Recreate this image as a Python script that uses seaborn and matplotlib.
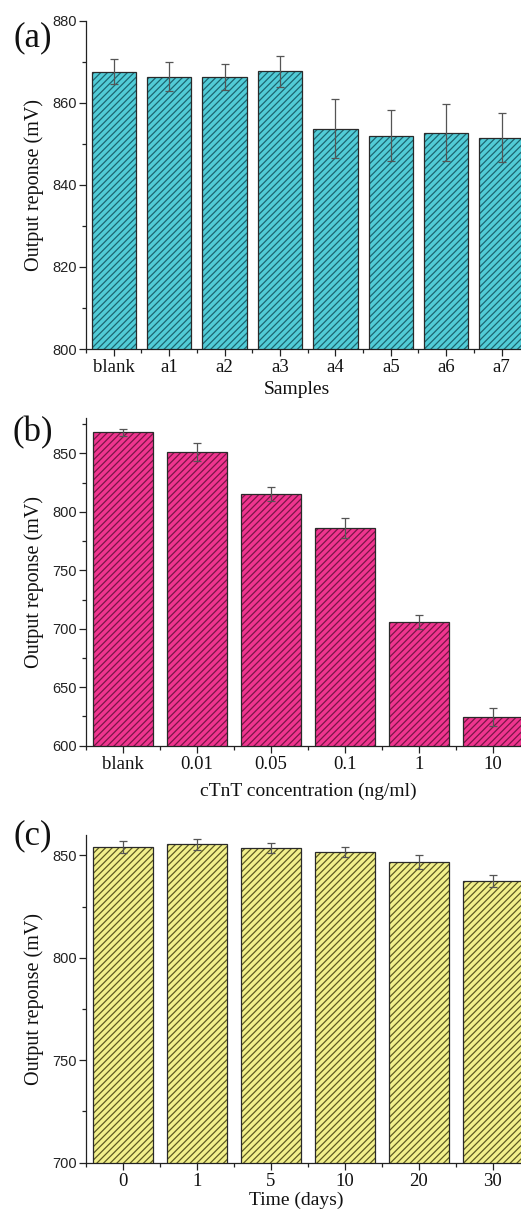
import numpy as np
import matplotlib
matplotlib.use("Agg")
import matplotlib.pyplot as plt
import seaborn as sns
from matplotlib.ticker import AutoMinorLocator, FixedLocator, MultipleLocator
from matplotlib.colors import to_rgba

# ---------------- data ----------------
samples_a = ["blank", "a1", "a2", "a3", "a4", "a5", "a6", "a7"]
values_a = [867.6, 866.4, 866.3, 867.7, 853.7, 852.0, 852.7, 851.5]
errors_a = [3.0, 3.6, 3.1, 3.8, 7.1, 6.2, 7.0, 5.9]

conc_b = ["blank", "0.01", "0.05", "0.1", "1", "10"]
values_b = [868.0, 851.4, 815.4, 786.3, 705.6, 624.2]
errors_b = [3.0, 7.8, 6.2, 8.4, 6.0, 7.7]

days_c = ["0", "1", "5", "10", "20", "30"]
values_c = [854.2, 855.5, 853.6, 851.6, 846.6, 837.6]
errors_c = [2.8, 2.6, 2.4, 2.3, 3.4, 3.1]

# ---------------- style ----------------
sns.set_theme(style="ticks")
plt.rcParams["font.family"] = ["Liberation Serif", "DejaVu Serif"]
plt.rcParams["hatch.linewidth"] = 0.9
plt.rcParams["axes.linewidth"] = 0.9

W, H = 521, 1209
fig = plt.figure(figsize=(W / 100, H / 100), dpi=100)


def px_axes(left, top, right, bottom):
    return fig.add_axes([left / W, 1 - bottom / H, (right - left) / W, (bottom - top) / H])


panels = [
    dict(cats=samples_a, vals=values_a, errs=errors_a, box=(86, 20.7, 521, 349),
         ylim=(800, 880), major=20, xmax=7.35, fill="#52CCD7", hatch="#1C6670",
         xlabel="Samples", xlab_pos=(0.484, -0.098), tag="(a)", tag_y=38),
    dict(cats=conc_b, vals=values_b, errs=errors_b, box=(86, 418.3, 521, 745.7),
         ylim=(600, 880), major=50, xmax=5.38, fill="#F0358F", hatch="#7A1547",
         xlabel="cTnT concentration (ng/ml)", xlab_pos=(0.51, -0.113), tag="(b)", tag_y=433),
    dict(cats=days_c, vals=values_c, errs=errors_c, box=(86, 835, 521, 1162.6),
         ylim=(700, 860), major=50, xmax=5.38, fill="#F2F08C", hatch="#5E5A22",
         xlabel="Time (days)", xlab_pos=(0.484, -0.088), tag="(c)", tag_y=836),
]

for p in panels:
    ax = px_axes(*p["box"])
    sns.barplot(x=p["cats"], y=p["vals"], order=p["cats"], ax=ax, color=p["fill"],
                saturation=1, width=0.8, errorbar=None, edgecolor="#2a2a2a",
                linewidth=0.9, hatch="/////", zorder=2)
    for bar in ax.patches:
        if hasattr(bar, "set_hatchcolor"):
            bar.set_hatchcolor(p["hatch"])
        else:
            bar._hatch_color = to_rgba(p["hatch"])
        bar.set_facecolor(p["fill"])
    ax.errorbar(np.arange(len(p["cats"])), p["vals"], yerr=p["errs"], fmt="none",
                ecolor="#555555", elinewidth=0.9, capsize=2.6, capthick=0.9, zorder=3)

    ax.set_ylim(*p["ylim"])
    ax.set_xlim(-0.5, p["xmax"])
    ax.yaxis.set_major_locator(MultipleLocator(p["major"]))
    ax.yaxis.set_minor_locator(AutoMinorLocator(2))
    ax.xaxis.set_minor_locator(FixedLocator(np.arange(-0.5, len(p["cats"]) + 0.5, 1.0)))

    for s in ["top", "right"]:
        ax.spines[s].set_visible(False)
    for s in ["left", "bottom"]:
        ax.spines[s].set_color("#222222")

    ax.tick_params(axis="both", which="major", direction="out", length=5, width=0.9,
                   color="#222222")
    ax.tick_params(axis="both", which="minor", direction="out", length=3, width=0.9,
                   color="#222222")
    ax.tick_params(axis="y", which="major", pad=1.5)
    ax.tick_params(axis="x", which="major", pad=2.5)
    for lab in ax.get_yticklabels():
        lab.set_fontfamily(["Liberation Sans", "DejaVu Sans"])
        lab.set_fontsize(10.5)
        lab.set_color("#222222")
    for lab in ax.get_xticklabels():
        lab.set_fontsize(13.5)
        lab.set_color("#111111")

    ax.set_ylabel("Output reponse (mV)", fontsize=14.5, color="#111111")
    ax.yaxis.set_label_coords(-0.097, 0.5)
    ax.set_xlabel(p["xlabel"], fontsize=14, color="#111111")
    ax.xaxis.set_label_coords(*p["xlab_pos"])

    fig.text(33 / W, 1 - p["tag_y"] / H, p["tag"], fontsize=25, ha="center",
             va="center", color="#111111")

fig.savefig("out.png", dpi=100)
